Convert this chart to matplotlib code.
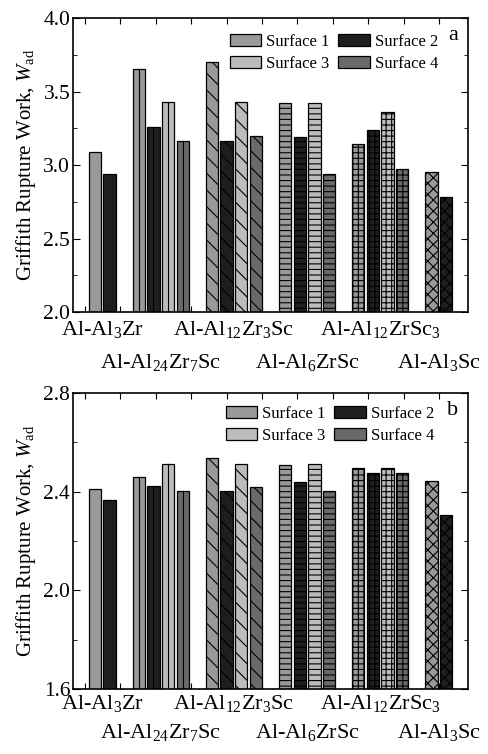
import matplotlib
matplotlib.use("Agg")
import matplotlib.pyplot as plt
import numpy as np
from matplotlib.patches import Patch
from matplotlib.ticker import MultipleLocator

plt.rcParams["font.family"] = "Liberation Serif"
plt.rcParams["mathtext.fontset"] = "custom"
plt.rcParams["mathtext.rm"] = "Liberation Serif"
plt.rcParams["mathtext.it"] = "Liberation Serif:italic"
plt.rcParams["hatch.linewidth"] = 0.8

phases = [
    r"Al-Al$_3$Zr",
    r"Al-Al$_{24}$Zr$_7$Sc",
    r"Al-Al$_{12}$Zr$_3$Sc",
    r"Al-Al$_6$ZrSc",
    r"Al-Al$_{12}$ZrSc$_3$",
    r"Al-Al$_3$Sc",
]
surfaces = ["Surface 1", "Surface 2", "Surface 3", "Surface 4"]

# panel a, one list per surface (nan = surface not computed for that phase)
s1_a = [3.09, 3.65, 3.70, 3.42, 3.14, 2.95]
s2_a = [2.94, 3.26, 3.16, 3.19, 3.24, 2.78]
s3_a = [np.nan, 3.43, 3.43, 3.42, 3.36, np.nan]
s4_a = [np.nan, 3.16, 3.20, 2.94, 2.97, np.nan]

# panel b
s1_b = [2.410, 2.459, 2.536, 2.508, 2.496, 2.445]
s2_b = [2.367, 2.424, 2.402, 2.439, 2.474, 2.305]
s3_b = [np.nan, 2.514, 2.514, 2.514, 2.496, np.nan]
s4_b = [np.nan, 2.402, 2.417, 2.402, 2.474, np.nan]

colors = ["#999999", "#1e1e1e", "#bcbcbc", "#6a6a6a"]
# group 2 gets a single centre line instead of a hatch (drawn below)
hatches = ["", "", "\\\\", "---", "+++", "xxx"]


def draw_panel(ax, series, ylim, ymajor, yminor, letter, legend_anchor, row_y):
    start = 0
    centers = []
    for g in range(len(phases)):
        vals = [s[g] for s in series]
        n = sum(1 for v in vals if not np.isnan(v))
        for i in range(n):
            ax.bar(start + i, vals[i], width=0.85, bottom=0, color=colors[i],
                   edgecolor="black", linewidth=0.9, hatch=hatches[g], zorder=2)
            if g == 1:
                ax.plot([start + i, start + i], [ylim[0], vals[i]], color="black",
                        lw=0.8, zorder=3)
        centers.append(start + (n - 1) / 2)
        start += n + 1

    ax.set_xlim(-1.5, 25.5)
    ax.set_ylim(*ylim)
    ax.yaxis.set_major_locator(MultipleLocator(ymajor))
    ax.yaxis.set_minor_locator(MultipleLocator(yminor))
    ax.set_xticks(-0.68 + 2.42 * np.arange(11))
    ax.set_xticklabels([])
    ax.tick_params(axis="both", which="both", direction="in", top=True, right=True)
    ax.tick_params(axis="y", which="major", length=5, labelsize=15.5, pad=2)
    ax.tick_params(axis="y", which="minor", length=3)
    ax.tick_params(axis="x", length=4)
    ax.yaxis.set_major_formatter(matplotlib.ticker.FormatStrFormatter("%.1f"))
    for sp in ax.spines.values():
        sp.set_linewidth(1.2)

    trans = matplotlib.transforms.blended_transform_factory(ax.transData, ax.transAxes)
    for g, c in enumerate(centers):
        ax.text(c, row_y[g % 2], phases[g], transform=trans, ha="center", va="top",
                fontsize=16)

    ax.set_ylabel(r"Griffith Rupture Work, $W_{\rm ad}$", fontsize=15, labelpad=4)
    handles = [Patch(facecolor=colors[i], edgecolor="black", linewidth=0.9)
               for i in range(4)]
    order = [0, 2, 1, 3]
    ax.legend([handles[i] for i in order], [surfaces[i] for i in order],
              loc="upper left", bbox_to_anchor=legend_anchor, ncol=2, frameon=False,
              fontsize=12, handlelength=1.9, handleheight=0.8, handletextpad=0.3,
              columnspacing=0.5, labelspacing=0.35, borderaxespad=0)
    ax.text(0.975, 0.94, letter, transform=ax.transAxes, ha="right", va="center",
            fontsize=16)


fig = plt.figure(figsize=(4.88, 7.54), dpi=100)
ax_a = fig.add_axes([0.1496, 0.5862, 0.8094, 0.3899])
ax_b = fig.add_axes([0.1496, 0.0862, 0.8094, 0.3926])

draw_panel(ax_a, [s1_a, s2_a, s3_a, s4_a], (2.0, 4.0), 0.5, 0.25, "a",
           (0.38, 0.97), (-0.025, -0.135))
draw_panel(ax_b, [s1_b, s2_b, s3_b, s4_b], (1.6, 2.8), 0.4, 0.2, "b",
           (0.37, 0.98), (-0.012, -0.11))

fig.savefig("out.png", dpi=100)
